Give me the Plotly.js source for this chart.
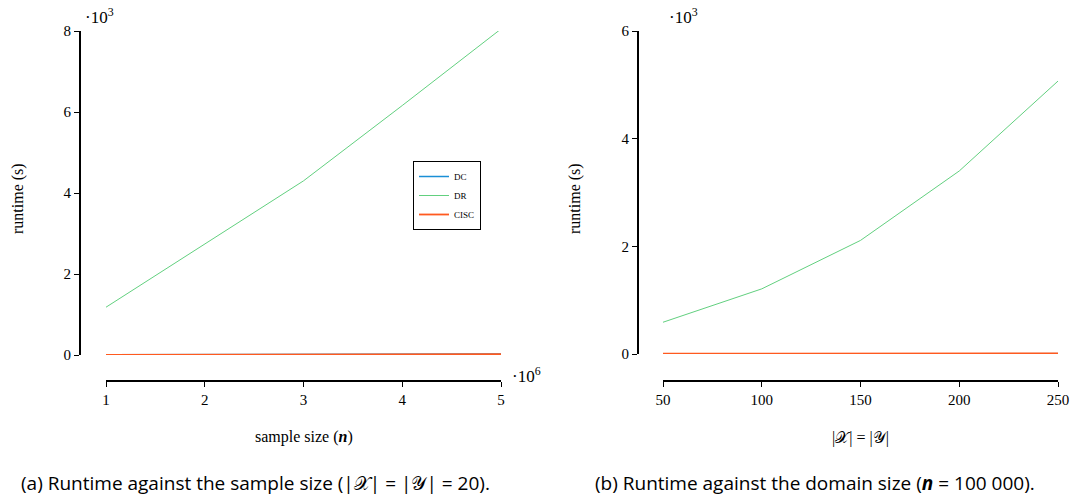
<!DOCTYPE html>
<html>
<head>
<meta charset="utf-8">
<script src="https://cdn.plot.ly/plotly-3.0.1.min.js"></script>
<style>html,body{margin:0;padding:0;background:#fff;}#chart{width:1076px;height:500px;}</style>
</head>
<body>
<div id="chart"></div>
<script>
// ---- data (runtime in seconds) ----
const sampleSizes = [1e6, 2e6, 3e6, 4e6, 5e6];
const dcA   = [6, 10, 14, 18, 22];
const drA   = [1180, 2730, 4300, 6160, 8050];
const ciscA = [5, 9, 13, 17, 21];

const domainSizes = [50, 100, 150, 200, 250];
const dcB   = [3, 5, 7, 9, 11];
const drB   = [590, 1210, 2110, 3400, 5070];
const ciscB = [3, 5, 7, 9, 11];

const xTicksA = [1e6, 2e6, 3e6, 4e6, 5e6];
const xTickTextA = ['1', '2', '3', '4', '5'];
const yTicksA = [0, 2000, 4000, 6000, 8000];
const yTickTextA = ['0', '2', '4', '6', '8'];
const xTicksB = [50, 100, 150, 200, 250];
const yTicksB = [0, 2000, 4000, 6000];
const yTickTextB = ['0', '2', '4', '6'];

const seriesNames = ['DC', 'DR', 'CISC'];
const colors = ['#1a8fd6', '#62d07f', '#ff5a1f'];
const widthsA = [1.5, 1, 1.8];
const widthsB = [1, 1, 2];

const W = 1076, H = 500;
const px = v => v / W;
const py = v => 1 - v / H;

const serif = 'Liberation Serif, DejaVu Serif, serif';
const sans = 'Open Sans, Lato, sans-serif';
const X = '<span style="font-family:DejaVu Serif">𝒳</span>';
const Y = '<span style="font-family:DejaVu Serif">𝒴</span>';

const traces = [];
[dcA, drA, ciscA].forEach((ys, i) => traces.push({
  x: sampleSizes, y: ys, type: 'scatter', mode: 'lines', name: seriesNames[i],
  line: {color: colors[i], width: widthsA[i]}, xaxis: 'x', yaxis: 'y', showlegend: true
}));
[dcB, drB, ciscB].forEach((ys, i) => traces.push({
  x: domainSizes, y: ys, type: 'scatter', mode: 'lines', name: seriesNames[i],
  line: {color: colors[i], width: widthsB[i]}, xaxis: 'x2', yaxis: 'y2', showlegend: false
}));

const axisCommon = {
  showgrid: false, zeroline: false, showline: true, linecolor: '#000', linewidth: 2,
  ticks: 'outside', ticklen: 5, tickwidth: 1, tickcolor: '#000',
  tickfont: {family: serif, size: 15, color: '#000'}, fixedrange: true
};

function note(text, x, y, size, family, extra) {
  return Object.assign({text: text, x: px(x), y: py(y), xref: 'paper', yref: 'paper',
    showarrow: false, xanchor: 'center', yanchor: 'middle',
    font: {family: family, size: size, color: '#000'}}, extra || {});
}

const layout = {
  width: W, height: H,
  margin: {l: 0, r: 0, t: 0, b: 0},
  paper_bgcolor: '#fff', plot_bgcolor: '#fff',
  showlegend: true,
  legend: {
    x: px(413), y: py(161), xanchor: 'left', yanchor: 'top',
    bordercolor: '#000', borderwidth: 1, bgcolor: '#fff',
    font: {family: serif, size: 9, color: '#000'},
    itemwidth: 30, tracegroupgap: 0
  },
  xaxis: Object.assign({}, axisCommon, {
    domain: [px(106), px(501)], range: [1e6, 5e6], anchor: 'free', position: py(381),
    tickmode: 'array', tickvals: xTicksA, ticktext: xTickTextA
  }),
  yaxis: Object.assign({}, axisCommon, {
    domain: [py(355), py(31)], range: [0, 8000], anchor: 'free', position: px(80),
    tickmode: 'array', tickvals: yTicksA, ticktext: yTickTextA
  }),
  xaxis2: Object.assign({}, axisCommon, {
    domain: [px(663), px(1058)], range: [50, 250], anchor: 'free', position: py(381),
    tickmode: 'array', tickvals: xTicksB, ticktext: xTicksB.map(String)
  }),
  yaxis2: Object.assign({}, axisCommon, {
    domain: [py(354), py(31)], range: [0, 6000], anchor: 'free', position: px(638),
    tickmode: 'array', tickvals: yTicksB, ticktext: yTickTextB
  }),
  annotations: [
    note('runtime (s)', 18, 199, 16, serif, {textangle: -90}),
    note('runtime (s)', 575, 199, 16, serif, {textangle: -90}),
    note('sample size (<b><i>n</i></b>)', 304, 437, 16, serif),
    note('|' + X + '| = |' + Y + '|', 860, 437, 16, serif),
    note('·10<sup>3</sup>', 83, 16, 17, serif, {xanchor: 'left'}),
    note('·10<sup>3</sup>', 667, 16, 17, serif, {xanchor: 'left'}),
    note('·10<sup>6</sup>', 510, 375, 17, serif, {xanchor: 'left'}),
    note('(a) Runtime against the sample size (|' + X + '| = |' + Y + '| = 20).', 255, 483, 19, sans),
    note('(b) Runtime against the domain size (<b><i>n</i></b> = 100 000).', 815, 483, 19, sans)
  ]
};

Plotly.newPlot('chart', traces, layout, {displayModeBar: false, staticPlot: true});
</script>
</body>
</html>
